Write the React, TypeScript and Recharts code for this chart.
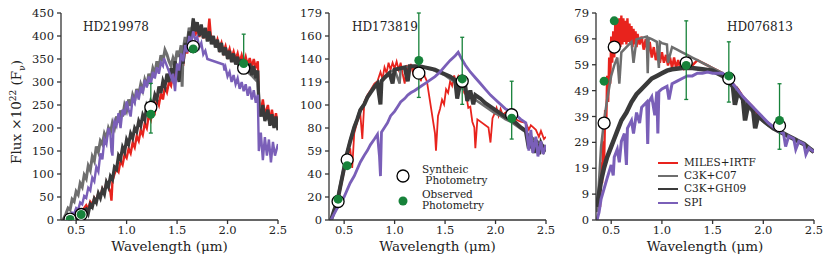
import React from 'react';
import { ComposedChart, Line, Scatter, XAxis, YAxis, ErrorBar } from 'recharts';

const FONT = '"DejaVu Serif", serif';
const C_RED = '#e8231d';
const C_LGRAY = '#6e6e6e';
const C_DGRAY = '#3a3a3a';
const C_PURPLE = '#7a5fb8';
const C_GREEN = '#17823a';

type P = [number, number];

const X_TICKS = [0.5, 1.0, 1.5, 2.0, 2.5];
const X_LABELS = ['0.5', '1.0', '1.5', '2.0', '2.5'];

// ---------- Panel 1: HD219978 ----------
const P1_Y_TICKS = [0, 50, 100, 150, 200, 250, 300, 350, 400, 450];
const P1_Y_LABELS = ['0', '50', '100', '150', '200', '250', '300', '350', '400', '450'];
const P1_RED: P[] = [[0.36,0],[0.4,2],[0.45,4],[0.5,10],[0.55,18],[0.58,26],[0.6,32],[0.62,24],[0.64,40],[0.66,34],[0.68,48],[0.7,42],[0.72,58],[0.74,50],[0.76,68],[0.78,60],[0.8,82],[0.82,72],[0.84,60],[0.85,42],[0.86,85],[0.88,100],[0.9,112],[0.92,105],[0.94,128],[0.96,120],[0.98,142],[1.0,135],[1.02,155],[1.04,145],[1.06,168],[1.08,158],[1.1,182],[1.12,172],[1.14,195],[1.16,185],[1.18,210],[1.2,200],[1.22,228],[1.24,218],[1.26,245],[1.28,235],[1.3,262],[1.32,250],[1.34,275],[1.36,262],[1.38,290],[1.4,278],[1.42,300],[1.44,292],[1.46,318],[1.48,305],[1.5,335],[1.52,315],[1.54,348],[1.56,335],[1.58,375],[1.6,362],[1.62,398],[1.64,385],[1.66,415],[1.68,400],[1.7,420],[1.72,398],[1.74,415],[1.76,395],[1.78,410],[1.8,390],[1.82,438],[1.84,385],[1.86,400],[1.88,378],[1.9,392],[1.92,372],[1.94,385],[1.96,365],[1.98,378],[2.0,358],[2.02,372],[2.04,352],[2.06,366],[2.08,348],[2.1,362],[2.12,342],[2.14,358],[2.16,340],[2.18,355],[2.2,336],[2.22,352],[2.24,332],[2.26,350],[2.28,330],[2.3,345],[2.31,250],[2.33,235],[2.35,262],[2.37,228],[2.4,250],[2.42,215],[2.44,240],[2.46,210],[2.48,232],[2.5,205]];
const P1_LGRAY: P[] = [[0.37,0],[0.4,14],[0.42,26],[0.44,22],[0.46,45],[0.48,40],[0.5,62],[0.52,55],[0.54,80],[0.56,72],[0.58,98],[0.6,90],[0.62,118],[0.64,108],[0.66,138],[0.68,128],[0.7,160],[0.72,148],[0.74,172],[0.76,165],[0.78,188],[0.8,178],[0.82,200],[0.84,190],[0.86,212],[0.88,200],[0.9,225],[0.92,212],[0.94,238],[0.96,225],[0.98,250],[1.0,238],[1.02,262],[1.04,248],[1.06,272],[1.08,260],[1.1,285],[1.12,272],[1.14,295],[1.16,282],[1.18,305],[1.2,292],[1.22,318],[1.24,305],[1.26,330],[1.28,318],[1.3,345],[1.32,330],[1.34,358],[1.36,345],[1.38,370],[1.4,360],[1.42,345],[1.44,335],[1.46,352],[1.48,340],[1.5,368],[1.52,355],[1.54,380],[1.55,290],[1.56,368],[1.58,398],[1.6,385],[1.62,418],[1.64,405],[1.66,432],[1.7,420],[1.75,410],[1.8,398],[1.85,388],[1.9,378],[1.95,368],[2.0,358],[2.05,348],[2.1,340],[2.15,330],[2.2,322],[2.25,312],[2.3,300],[2.32,240],[2.35,228],[2.4,220],[2.45,210],[2.5,200]];
const P1_DGRAY: P[] = [[0.38,0],[0.42,3],[0.46,2],[0.5,9],[0.53,6],[0.56,18],[0.6,24],[0.62,14],[0.64,34],[0.66,28],[0.68,46],[0.7,38],[0.72,58],[0.74,48],[0.76,66],[0.78,56],[0.8,82],[0.82,72],[0.84,95],[0.86,88],[0.88,115],[0.9,110],[0.92,140],[0.94,132],[0.96,158],[0.98,148],[1.0,175],[1.02,165],[1.04,188],[1.06,178],[1.08,200],[1.1,192],[1.12,215],[1.14,205],[1.16,228],[1.18,218],[1.2,248],[1.22,238],[1.24,258],[1.26,250],[1.28,272],[1.3,262],[1.32,290],[1.34,276],[1.36,302],[1.38,290],[1.4,318],[1.42,300],[1.44,330],[1.46,312],[1.48,345],[1.5,325],[1.52,300],[1.54,360],[1.56,340],[1.58,385],[1.6,370],[1.62,410],[1.64,395],[1.66,438],[1.68,410],[1.7,430],[1.72,400],[1.74,425],[1.76,395],[1.78,418],[1.8,388],[1.82,410],[1.84,382],[1.86,400],[1.88,375],[1.9,392],[1.92,365],[1.94,385],[1.96,358],[1.98,375],[2.0,350],[2.02,368],[2.04,343],[2.06,362],[2.08,338],[2.1,355],[2.12,330],[2.14,350],[2.16,325],[2.18,345],[2.2,320],[2.22,340],[2.24,315],[2.26,335],[2.28,308],[2.3,325],[2.31,240],[2.33,225],[2.35,250],[2.37,215],[2.4,240],[2.42,205],[2.44,230],[2.46,200],[2.48,225],[2.5,195]];
const P1_PURPLE: P[] = [[0.38,0],[0.42,8],[0.44,6],[0.46,16],[0.48,14],[0.5,26],[0.52,22],[0.54,38],[0.56,34],[0.58,52],[0.6,48],[0.62,70],[0.64,64],[0.66,92],[0.68,84],[0.7,115],[0.72,105],[0.74,145],[0.76,132],[0.78,175],[0.8,165],[0.82,200],[0.84,185],[0.85,150],[0.86,140],[0.87,200],[0.88,215],[0.9,205],[0.92,232],[0.94,200],[0.96,240],[0.98,228],[1.0,258],[1.02,240],[1.04,225],[1.06,265],[1.08,255],[1.1,282],[1.12,262],[1.14,290],[1.16,275],[1.18,305],[1.2,288],[1.22,312],[1.24,295],[1.26,322],[1.28,308],[1.3,332],[1.32,318],[1.34,342],[1.36,335],[1.37,352],[1.45,305],[1.46,318],[1.48,280],[1.5,340],[1.52,325],[1.54,362],[1.56,345],[1.58,380],[1.6,365],[1.62,400],[1.64,385],[1.66,410],[1.68,392],[1.7,398],[1.72,375],[1.74,385],[1.76,360],[1.78,368],[1.8,350],[1.96,338],[1.97,325],[1.98,332],[2.0,312],[2.02,322],[2.04,300],[2.06,315],[2.08,295],[2.1,308],[2.12,285],[2.14,300],[2.16,280],[2.18,295],[2.2,270],[2.22,290],[2.24,262],[2.26,282],[2.28,255],[2.3,272],[2.31,150],[2.33,190],[2.35,130],[2.37,180],[2.39,140],[2.41,175],[2.43,125],[2.45,170],[2.47,140],[2.5,165]];
const P1_SYNTH: P[] = [[0.44,2],[0.55,12],[1.24,245],[1.66,377],[2.16,330]];
const P1_OBS: P[] = [[0.44,1],[0.55,12],[1.24,230],[1.66,372],[2.16,340]];
const P1_OBS_ERR: P[] = [[0,0],[0,0],[41,67],[0,0],[10,64]];

// ---------- Panel 2: HD173819 ----------
const P2_Y_TICKS = [0, 1, 2, 3, 4, 5, 6, 7, 8, 9].map((i) => (i * 179) / 9);
const P2_Y_LABELS = ['0', '20', '40', '59', '80', '100', '119', '140', '160', '179'];
const P2_RED: P[] = [[0.37,0],[0.4,8],[0.43,14],[0.46,25],[0.5,42],[0.53,55],[0.56,62],[0.58,45],[0.6,75],[0.63,85],[0.66,92],[0.68,70],[0.7,102],[0.73,108],[0.76,112],[0.8,118],[0.83,120],[0.86,128],[0.88,122],[0.9,132],[0.92,127],[0.94,136],[0.96,130],[0.98,136],[1.0,131],[1.02,137],[1.04,130],[1.06,136],[1.08,126],[1.1,118],[1.12,134],[1.14,126],[1.16,135],[1.18,128],[1.2,134],[1.22,126],[1.24,131],[1.26,120],[1.28,130],[1.3,124],[1.32,120],[1.40,75],[1.41,60],[1.43,90],[1.45,96],[1.47,104],[1.49,100],[1.51,113],[1.53,110],[1.55,120],[1.57,116],[1.59,125],[1.61,119],[1.63,124],[1.65,118],[1.67,121],[1.69,110],[1.71,108],[1.73,97],[1.75,98],[1.77,85],[1.79,80],[1.8,62],[1.82,87],[1.93,80],[1.95,67],[1.97,88],[1.99,92],[2.01,97],[2.03,90],[2.05,96],[2.07,91],[2.1,93],[2.15,88],[2.2,87],[2.25,85],[2.3,84],[2.33,78],[2.35,82],[2.4,78],[2.43,72],[2.45,77],[2.48,70],[2.5,72]];
const P2_LGRAY: P[] = [[0.37,0],[0.4,9],[0.43,17],[0.46,30],[0.5,47],[0.53,59],[0.56,69],[0.6,81],[0.63,88],[0.66,96],[0.7,101],[0.73,107],[0.76,111],[0.8,116],[0.83,119],[0.86,108],[0.87,121],[0.9,124],[0.95,128],[1.0,130],[1.05,118],[1.06,131],[1.1,132],[1.15,133],[1.2,133],[1.25,133],[1.3,132],[1.35,131],[1.4,129],[1.45,127],[1.5,125],[1.55,122],[1.6,119],[1.65,115],[1.7,112],[1.75,108],[1.8,104],[1.85,101],[1.9,98],[1.95,95],[2.0,92],[2.05,90],[2.1,87],[2.15,85],[2.2,82],[2.25,79],[2.3,76],[2.35,72],[2.4,69],[2.45,66],[2.5,63]];
const P2_DGRAY: P[] = [[0.37,0],[0.4,8],[0.43,15],[0.46,28],[0.5,45],[0.53,58],[0.56,68],[0.6,80],[0.63,87],[0.66,95],[0.7,100],[0.73,106],[0.76,110],[0.8,115],[0.83,118],[0.86,100],[0.87,120],[0.9,123],[0.95,127],[0.98,118],[1.0,130],[1.05,131],[1.1,132],[1.13,120],[1.15,133],[1.2,133],[1.25,133],[1.3,132],[1.35,131],[1.4,130],[1.45,128],[1.5,126],[1.55,124],[1.6,121],[1.62,105],[1.65,118],[1.7,116],[1.72,103],[1.75,112],[1.78,100],[1.8,108],[1.85,105],[1.9,101],[1.95,98],[2.0,95],[2.05,92],[2.1,89],[2.15,87],[2.2,84],[2.25,80],[2.3,77],[2.33,62],[2.35,72],[2.38,58],[2.4,69],[2.43,57],[2.45,66],[2.48,60],[2.5,63]];
const P2_PURPLE: P[] = [[0.37,0],[0.4,5],[0.43,10],[0.46,14],[0.5,20],[0.53,26],[0.56,32],[0.6,38],[0.63,44],[0.66,50],[0.7,56],[0.73,60],[0.76,65],[0.8,70],[0.83,74],[0.85,55],[0.86,38],[0.87,76],[0.9,80],[0.93,84],[0.96,90],[1.0,94],[1.03,98],[1.06,102],[1.1,105],[1.13,108],[1.16,110],[1.2,112],[1.25,115],[1.3,118],[1.35,121],[1.4,124],[1.45,128],[1.5,133],[1.55,138],[1.6,142],[1.63,145],[1.66,140],[1.7,134],[1.75,128],[1.8,123],[1.85,118],[1.9,113],[1.95,108],[2.0,104],[2.05,100],[2.1,96],[2.15,94],[2.2,91],[2.25,87],[2.3,84],[2.33,60],[2.35,78],[2.37,58],[2.4,72],[2.42,55],[2.45,68],[2.47,57],[2.5,65]];
const P2_SYNTH: P[] = [[0.44,16],[0.53,52],[1.24,127],[1.67,120],[2.16,91]];
const P2_OBS: P[] = [[0.44,18],[0.53,47],[1.24,138],[1.67,122],[2.16,88]];
const P2_OBS_ERR: P[] = [[0,0],[0,0],[32,41],[22,36],[18,32]];

// ---------- Panel 3: HD076813 ----------
const P3_Y_TICKS = [0, 1, 2, 3, 4, 5, 6, 7, 8].map((i) => (i * 79) / 8);
const P3_Y_LABELS = ['0', '9', '19', '29', '39', '49', '59', '69', '79'];
const P3_RED: P[] = [[0.36,3],[0.38,10],[0.39,5],[0.4,22],[0.41,14],[0.42,30],[0.43,22],[0.44,42],[0.45,35],[0.46,55],[0.47,45],[0.48,62],[0.49,52],[0.5,70],[0.51,60],[0.52,72],[0.53,62],[0.54,75],[0.55,64],[0.56,76],[0.57,65],[0.58,77],[0.59,66],[0.6,78],[0.61,67],[0.62,77],[0.63,68],[0.64,76],[0.65,67],[0.66,77],[0.67,68],[0.68,75],[0.69,67],[0.7,74],[0.71,66],[0.72,73],[0.73,67],[0.74,72],[0.75,66],[0.76,71],[0.78,67],[0.8,70],[0.82,65],[0.84,69],[0.86,63],[0.88,68],[0.9,62],[0.92,66],[0.94,61],[0.96,65],[0.98,60],[1.0,64],[1.02,60],[1.04,63],[1.06,59],[1.08,62],[1.1,58],[1.12,62],[1.14,58],[1.16,61],[1.18,58],[1.2,61],[1.22,58],[1.25,60],[1.3,59],[1.35,61],[1.45,59],[1.5,58],[1.55,57],[1.6,56],[1.65,54],[1.7,52],[1.75,50],[1.8,47],[1.85,45],[1.9,43],[1.95,40],[2.0,38],[2.05,37],[2.1,35],[2.15,34],[2.2,33],[2.25,32],[2.3,31],[2.35,30],[2.4,29],[2.45,27],[2.5,26]];
const P3_LGRAY: P[] = [[0.36,3],[0.38,15],[0.4,28],[0.43,38],[0.46,46],[0.5,55],[0.53,59],[0.56,62],[0.58,52],[0.6,64],[0.65,66],[0.7,68],[0.72,60],[0.75,69],[0.8,69.5],[0.85,70],[0.86,56],[0.87,69.5],[0.9,69],[0.95,68],[0.97,58],[0.98,68],[1.0,67.5],[1.05,67],[1.06,60],[1.1,66],[1.15,65],[1.2,64],[1.25,63],[1.3,62],[1.35,61],[1.4,60],[1.45,59],[1.5,58],[1.55,57],[1.6,56],[1.65,54],[1.7,51],[1.75,48],[1.8,46],[1.85,43],[1.9,41],[1.95,39],[2.0,37.5],[2.05,36],[2.1,35],[2.15,34],[2.2,33],[2.25,32],[2.3,31],[2.35,30],[2.4,29],[2.45,27.5],[2.5,26]];
const P3_DGRAY: P[] = [[0.36,5],[0.38,10],[0.4,15],[0.43,20],[0.46,24],[0.5,28],[0.53,31],[0.56,34],[0.6,38],[0.65,41],[0.7,45],[0.75,48],[0.8,50],[0.85,52],[0.9,54],[0.95,55],[1.0,56],[1.05,57],[1.1,57.5],[1.2,58],[1.3,58],[1.4,57.5],[1.5,57],[1.6,55],[1.65,53],[1.7,51],[1.72,44],[1.75,49],[1.8,46],[1.82,38],[1.85,44],[1.9,42],[1.92,35],[1.95,40],[2.0,38],[2.05,36.5],[2.1,35],[2.15,34],[2.2,33],[2.25,32],[2.3,31],[2.35,30],[2.4,29],[2.45,27.5],[2.5,26]];
const P3_PURPLE: P[] = [[0.36,0],[0.38,3],[0.4,8],[0.43,12],[0.46,16],[0.5,21],[0.52,17],[0.53,24],[0.56,27],[0.58,22],[0.6,30],[0.63,33],[0.65,21],[0.66,35],[0.7,38],[0.72,33],[0.75,41],[0.78,37],[0.8,43],[0.85,45],[0.86,29],[0.87,45],[0.9,47],[0.93,40],[0.95,49],[0.96,33],[0.97,49],[1.0,50],[1.05,51],[1.07,46],[1.1,52],[1.15,53],[1.2,54],[1.25,55],[1.3,55],[1.35,56],[1.4,56],[1.45,56.5],[1.5,56],[1.55,56],[1.6,56],[1.65,54],[1.7,52],[1.8,47],[1.9,43],[1.95,41],[2.0,39],[2.05,37],[2.1,35.5],[2.15,34],[2.2,33],[2.22,28],[2.25,32],[2.3,31],[2.32,27],[2.35,30],[2.4,29],[2.42,25],[2.45,27.5],[2.5,26]];
const P3_SYNTH: P[] = [[0.43,37],[0.53,66],[1.24,60],[1.66,54],[2.16,36]];
const P3_OBS: P[] = [[0.43,53],[0.53,76],[1.24,59],[1.66,55],[2.16,38]];
const P3_OBS_ERR: P[] = [[0,0],[0,0],[13,17],[10,13],[11,14]];

const LEGEND_NAMES = ['MILES+IRTF', 'C3K+C07', 'C3K+GH09', 'SPI'];
const LEGEND_COLORS = [C_RED, C_LGRAY, C_DGRAY, C_PURPLE];

const pts = (a: P[]) => a.map(([x, y]) => ({ x, y }));
const obsPts = (a: P[], e: P[]) => a.map(([x, y], i) => ({ x, y, err: e[i] }));

const WhiteCircle = (props: any) => (
  <circle cx={props.cx} cy={props.cy} r={6} fill="#fff" stroke="#000" strokeWidth={1.3} />
);
const GreenDot = (props: any) => (
  <circle cx={props.cx} cy={props.cy} r={4.5} fill={C_GREEN} stroke="none" />
);

const tickStyle = { fill: '#222', fontSize: 11.5, fontFamily: FONT };

function Panel(props: any) {
  const { left, width, yw, rm, yMax, yTicks, yLabels, red, lgray, dgray, purple, synth, obs, obsErr, sw } = props;
  return (
    <div style={{ position: 'absolute', left, top: 0 }}>
      <ComposedChart width={width} height={267} margin={{ top: 13, right: rm, bottom: 17, left: 0 }}>
        <XAxis xAxisId="b" dataKey="x" type="number" domain={[0.35, 2.5]} ticks={X_TICKS}
          tickFormatter={(v: number, i: number) => X_LABELS[i]} allowDataOverflow interval={0}
          height={30} tickSize={4} tickMargin={2} stroke="#333" strokeWidth={1.3} tick={tickStyle} />
        <XAxis xAxisId="t" orientation="top" dataKey="x" type="number" domain={[0.35, 2.5]} ticks={X_TICKS}
          allowDataOverflow interval={0} height={0} tickSize={4} tick={false} stroke="#333" strokeWidth={1.3} />
        <YAxis yAxisId="l" type="number" domain={[0, yMax]} ticks={yTicks} allowDataOverflow interval={0}
          tickFormatter={(v: number, i: number) => yLabels[i]} width={yw} tickSize={4} tickMargin={3}
          stroke="#333" strokeWidth={1.3} tick={tickStyle} />
        <YAxis yAxisId="r" orientation="right" type="number" domain={[0, yMax]} ticks={yTicks} allowDataOverflow
          interval={0} width={0} tickSize={4} tick={false} stroke="#333" strokeWidth={1.3} />
        <Line xAxisId="b" yAxisId="l" data={pts(red)} dataKey="y" stroke={C_RED} strokeWidth={sw[0]} strokeLinejoin="miter" dot={false} isAnimationActive={false} />
        <Line xAxisId="b" yAxisId="l" data={pts(lgray)} dataKey="y" stroke={C_LGRAY} strokeWidth={sw[1]} strokeLinejoin="miter" dot={false} isAnimationActive={false} />
        <Line xAxisId="b" yAxisId="l" data={pts(dgray)} dataKey="y" stroke={C_DGRAY} strokeWidth={sw[2]} strokeLinejoin="miter" dot={false} isAnimationActive={false} />
        <Line xAxisId="b" yAxisId="l" data={pts(purple)} dataKey="y" stroke={C_PURPLE} strokeWidth={sw[3]} strokeLinejoin="miter" dot={false} isAnimationActive={false} />
        <Scatter xAxisId="b" yAxisId="l" data={pts(synth)} dataKey="y" shape={WhiteCircle} isAnimationActive={false} />
        <Scatter xAxisId="b" yAxisId="l" data={obsPts(obs, obsErr)} dataKey="y" shape={GreenDot} isAnimationActive={false}>
          <ErrorBar dataKey="err" direction="y" stroke={C_GREEN} width={2} strokeWidth={1.3} />
        </Scatter>
      </ComposedChart>
    </div>
  );
}

const textBase: React.CSSProperties = { position: 'absolute', fontFamily: FONT, color: '#222', whiteSpace: 'nowrap', lineHeight: 1 };

export default function App() {
  return (
    <div style={{ position: 'absolute', left: 0, top: 0, width: 831, height: 267, background: '#fff', fontFamily: FONT }}>
      <Panel left={0} width={290} yw={61} rm={12} yMax={450} yTicks={P1_Y_TICKS} yLabels={P1_Y_LABELS} sw={[2.4, 3, 3.2, 2.4]}
        red={P1_RED} lgray={P1_LGRAY} dgray={P1_DGRAY} purple={P1_PURPLE} synth={P1_SYNTH} obs={P1_OBS} obsErr={P1_OBS_ERR} />
      <Panel left={280} width={278} yw={49} rm={12} yMax={179} yTicks={P2_Y_TICKS} yLabels={P2_Y_LABELS} sw={[1.8, 2.5, 4, 2.8]}
        red={P2_RED} lgray={P2_LGRAY} dgray={P2_DGRAY} purple={P2_PURPLE} synth={P2_SYNTH} obs={P2_OBS} obsErr={P2_OBS_ERR} />
      <Panel left={550} width={280} yw={46} rm={16} yMax={79} yTicks={P3_Y_TICKS} yLabels={P3_Y_LABELS} sw={[2.4, 2.5, 4.5, 3]}
        red={P3_RED} lgray={P3_LGRAY} dgray={P3_DGRAY} purple={P3_PURPLE} synth={P3_SYNTH} obs={P3_OBS} obsErr={P3_OBS_ERR} />

      {/* titles */}
      <div style={{ ...textBase, left: 83, top: 21, fontSize: 12 }}>HD219978</div>
      <div style={{ ...textBase, left: 352, top: 21, fontSize: 12 }}>HD173819</div>
      <div style={{ ...textBase, left: 727, top: 21, fontSize: 12 }}>HD076813</div>

      {/* x labels */}
      {[169.5, 437.5, 705].map((cx, i) => (
        <div key={i} style={{ ...textBase, left: cx, top: 240, fontSize: 13.5, transform: 'translateX(-50%)' }}>Wavelength (μm)</div>
      ))}

      {/* y label */}
      <div style={{ ...textBase, left: 18, top: 112, fontSize: 13.5, transform: 'translate(-50%,-50%) rotate(-90deg)' }}>
        Flux ×10<sup style={{ fontSize: 9 }}>22</sup> (F<sub style={{ fontSize: 9 }}>ν</sub>)
      </div>

      {/* panel 2 legend */}
      <svg style={{ position: 'absolute', left: 390, top: 160 }} width={26} height={52}>
        <circle cx={13} cy={16} r={6} fill="#fff" stroke="#000" strokeWidth={1.3} />
        <line x1={13} y1={37} x2={13} y2={45} stroke={C_GREEN} strokeWidth={1.2} />
        <circle cx={13} cy={41} r={4.5} fill={C_GREEN} />
      </svg>
      <div style={{ ...textBase, left: 422, top: 164, fontSize: 10.5, lineHeight: '11px' }}>Syntheic<br />&nbsp;Photometry</div>
      <div style={{ ...textBase, left: 422, top: 189, fontSize: 10.5, lineHeight: '11px' }}>Observed<br />Photometry</div>

      {/* panel 3 legend */}
      {LEGEND_NAMES.map((n, i) => (
        <React.Fragment key={n}>
          <div style={{ position: 'absolute', left: 658, top: 162 + i * 13.2, width: 20, height: 2, background: LEGEND_COLORS[i] }} />
          <div style={{ ...textBase, left: 684, top: 157 + i * 13.2, fontSize: 10.5 }}>{n}</div>
        </React.Fragment>
      ))}
    </div>
  );
}
